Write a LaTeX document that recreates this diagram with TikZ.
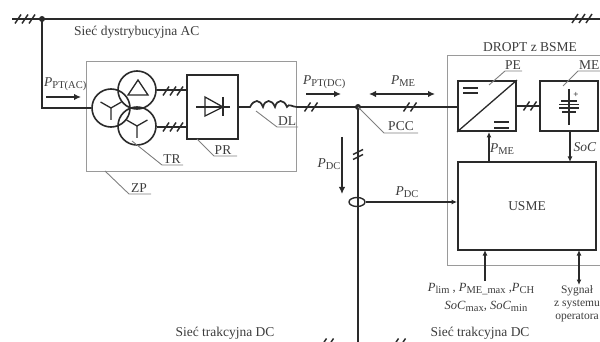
\documentclass[tikz,border=0pt]{standalone}
\usepackage{fontspec}
\setmainfont{Liberation Serif}
\usetikzlibrary{arrows.meta,shapes.geometric}
\definecolor{ink}{HTML}{2A2A2A}
\definecolor{frame}{HTML}{9A9A9A}
\definecolor{lead}{HTML}{808080}
\definecolor{txt}{HTML}{3C3C3C}
\tikzset{
  x=1pt,y=-1pt,
  wire/.style={draw=ink,line width=1.7pt},
  thin wire/.style={draw=ink,line width=1.3pt},
  boxstyle/.style={draw=ink,line width=1.8pt,minimum width=0pt,inner sep=0pt},
  group/.style={draw=frame,line width=1pt},
  leader/.style={draw=lead,line width=.9pt},
  lbl/.style={text=txt,font=\fontsize{13.5}{15}\selectfont,inner sep=0pt},
  small lbl/.style={lbl,font=\fontsize{12.5}{13.5}\selectfont},
  tiny lbl/.style={lbl,font=\fontsize{11.5}{13}\selectfont},
  hashmark/.style={draw=ink,line width=1.4pt},
  power/.style={draw=ink,line width=1.7pt,-{Latex[length=7pt,width=6.5pt]}},
  powerboth/.style={draw=ink,line width=1.7pt,{Latex[length=7pt,width=6.5pt]}-{Latex[length=7pt,width=6.5pt]}},
  signal/.style={draw=ink,line width=1.2pt,-{Latex[length=5.5pt,width=5pt]}},
  signalboth/.style={draw=ink,line width=1.2pt,{Latex[length=5.5pt,width=5pt]}-{Latex[length=5.5pt,width=5pt]}},
  junction/.style={circle,fill=ink,inner sep=0pt,minimum size=6pt},
  wind/.style={circle,draw=ink,line width=1.6pt,minimum size=38pt,inner sep=0pt},
}
\newcommand{\subs}[1]{\raisebox{-2pt}{\fontsize{10.5}{10.5}\selectfont #1}}
\newcommand{\hashthree}[2]{\foreach \d in {-7,0,7}{\draw[hashmark] (#1+\d-3,#2+4.5) -- (#1+\d+3,#2-4.5);}}
\newcommand{\hashtwo}[2]{\foreach \d in {-3.5,3.5}{\draw[hashmark] (#1+\d-3,#2+4.5) -- (#1+\d+3,#2-4.5);}}
\newcommand{\wye}[3]{\draw[thin wire] (#1,#2) -- +(0,#3) (#1,#2) -- +(-#3*.87,-#3*.5) (#1,#2) -- +(#3*.87,-#3*.5);}
\begin{document}
\begin{tikzpicture}
\useasboundingbox (0,0) rectangle (600,342);
\clip (0,0) rectangle (600,342);
% group frames
\draw[group] (86,62) rectangle (296,172);
\draw[group] (620,56) -- (447,56) -- (447,265) -- (620,265);
% coordinates
\coordinate (busL) at (12,19);
\coordinate (busR) at (610,19);
\node[junction] (tap) at (42,19) {};
\node[wind] (wy1) at (111,108) {};
\node[wind] (wd) at (137,90) {};
\node[wind] (wy2) at (137,126) {};
\node[boxstyle,minimum width=51pt,minimum height=64pt] (pr) at (212.5,107) {};
\node[boxstyle,minimum width=58pt,minimum height=50pt] (pe) at (487,106) {};
\node[boxstyle,minimum width=58pt,minimum height=50pt] (me) at (569,106) {};
\node[boxstyle,minimum width=138pt,minimum height=88pt,text=txt,font=\fontsize{13.5}{15}\selectfont] (usme) at (527,206) {USME};
\node[junction] (pcc) at (358,107) {};
\node[draw=ink,line width=1.4pt,ellipse,minimum width=16pt,minimum height=9pt,inner sep=0pt] (ct) at (357,202) {};
\coordinate (bot) at (358,345);
% bus and feeder
\draw[wire] (busL) -- (busR);
\hashthree{25}{19}
\hashthree{582}{18.5}
\draw[wire] (tap.center) -- (42,108) -- (wy1.west);
% transformer symbols
\wye{111}{108}{12}
\wye{137}{126}{12}
\draw[thin wire] (138,80) -- (148,95) -- (128,95) -- cycle;
% secondary
\draw[thin wire] (wd.east |- 0,90) -- (pr.west |- 0,90);
\draw[thin wire] (wy2.east |- 0,127) -- (pr.west |- 0,127);
\hashthree{173}{91}
\hashthree{173}{127}
% diode
\draw[thin wire] (196,107) -- (230,107);
\draw[thin wire] (205,97) -- (205,116) -- (223,107) -- cycle;
\draw[thin wire] (223,97) -- (223,116);
% inductor and DC bus
\draw[wire] (pr.east) -- (250,107)
  .. controls (254,99) and (260,99) .. (263,107)
  .. controls (265,99) and (272,99) .. (275,107)
  .. controls (277,99) and (284,99) .. (287,107)
  .. controls (289,103) and (292,107) .. (297,107) -- (pcc.center) -- (pe.west |- pcc.center);
\hashtwo{311}{107}
\hashtwo{410}{107}
\draw[wire] (pcc.center) -- (bot);
\foreach \d in {152,157}{\draw[hashmark] (353,\d+2.5) -- (363,\d-2.5);}
% bottom line ticks
\hashtwo{327}{343}
\hashtwo{399}{343}
% pe
\draw[thin wire] (pe.south west) -- (pe.north east);
\draw[thin wire] (463,88) -- (478,88) (463,93) -- (478,93);
\draw[thin wire] (494,122) -- (509,122) (494,128) -- (509,128);
% pe-me link
\draw[wire] (pe.east) -- (me.west);
\hashtwo{530}{106}
% battery
\draw[thin wire] (569,89) -- (569,125);
\draw[thin wire] (561,101) -- (577,101);
\draw[thin wire] (559,104.5) -- (579,104.5);
\draw[thin wire] (559,108) -- (579,108);
\draw[thin wire] (562,112) -- (576,112);
\node[lbl,font=\bfseries\fontsize{9}{9}\selectfont] (plus) at (576,95) {+};
% arrows
\draw[power] (306,94) -- (341,94);
\draw[powerboth] (369,94) -- (435,94);
\draw[power] (46,97) -- (81,97);
\draw[power] (342,137) -- (342,194);
\draw[signal] (ct.east) -- (usme.west |- ct.east);
\draw[signal] (489,162) -- (489,132);
\draw[signal] (570,131) -- (570,162);
\draw[signal] (485,281) -- (485,250);
\draw[signalboth] (579,250) -- (579,285);
% leaders
\draw[leader] (132,141) -- (162,165) -- (183,165);
\draw[leader] (197,139) -- (214,156) -- (237,156);
\draw[leader] (256,111) -- (277,127) -- (298,127);
\draw[leader] (105,171) -- (129,194) -- (151,194);
\draw[leader] (358,107) -- (384,133) -- (418,133);
\draw[leader] (489,85) -- (505,71) -- (522,71);
\draw[leader] (563,86) -- (578,71) -- (600,71);
% labels
\node[lbl,anchor=west] (l1) at (74,32) {Sieć dystrybucyjna AC};
\node[lbl,anchor=west] (l2) at (44,84) {\textit{P}\subs{PT(AC)}};
\node[lbl] (l3) at (172,159) {TR};
\node[lbl] (l4) at (223,150) {PR};
\node[lbl] (l5) at (287,121) {DL};
\node[lbl] (l6) at (139,188) {ZP};
\node[lbl,anchor=west] (l7) at (303,82) {\textit{P}\subs{PT(DC)}};
\node[lbl] (l8) at (403,81) {\textit{P}\subs{ME}};
\node[lbl] (l9) at (401,126) {PCC};
\node[lbl] (l10) at (329,164) {\textit{P}\subs{DC}};
\node[lbl] (l11) at (407,192) {\textit{P}\subs{DC}};
\node[lbl] (l12) at (530,47) {DROPT z BSME};
\node[lbl] (l13) at (513,65) {PE};
\node[lbl,anchor=west] (l14) at (579,65) {ME};
\node[lbl] (l15) at (502,149) {\textit{P}\subs{ME}};
\node[lbl] (l16) at (585,147) {\textit{SoC}};
\node[small lbl] (l17) at (481,289) {\textit{P}\subs{lim} , \textit{P}\subs{ME\_max} ,\textit{P}\subs{CH}};
\node[small lbl] (l18) at (486,306) {\textit{SoC}\subs{max}, \textit{SoC}\subs{min}};
\node[tiny lbl,align=center,anchor=north] (l19) at (577,285) {Sygnał\\z systemu\\operatora};
\node[lbl] (l20) at (225,333) {Sieć trakcyjna DC};
\node[lbl] (l21) at (480,333) {Sieć trakcyjna DC};
\end{tikzpicture}
\end{document}
